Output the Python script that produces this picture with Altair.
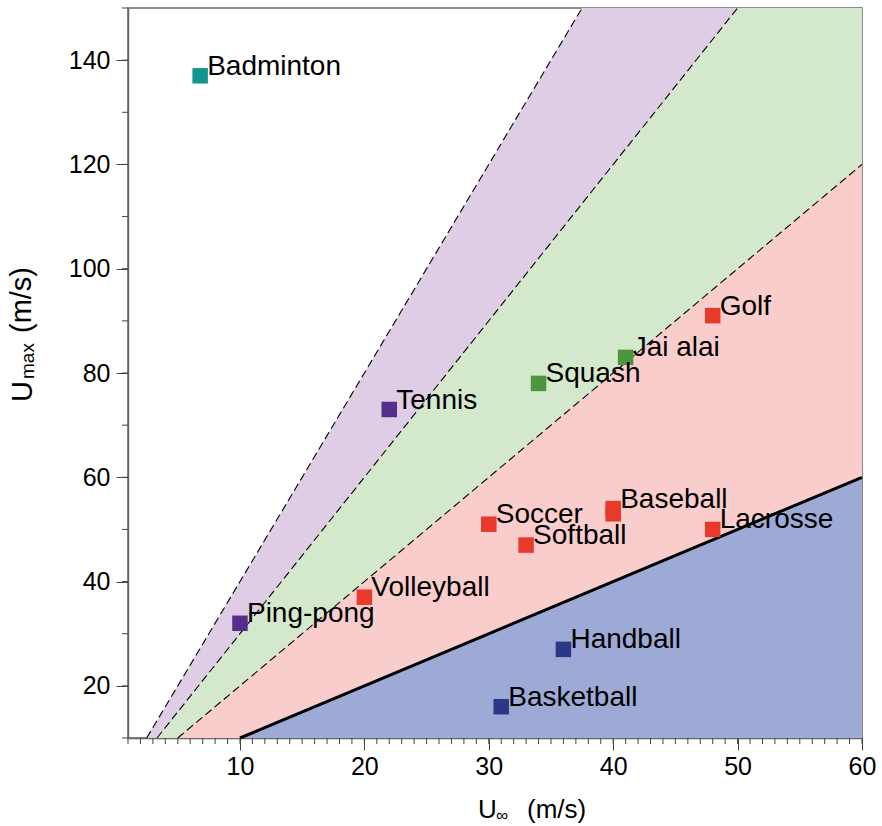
import altair as alt
import pandas as pd

# Sports: ball speed in play (U_max) versus terminal velocity (U_inf), m/s
sports = ["Badminton", "Tennis", "Ping-pong", "Squash", "Jai alai", "Golf",
          "Soccer", "Softball", "Baseball", "Baseball", "Volleyball",
          "Lacrosse", "Handball", "Basketball"]
u_inf = [6.8, 22, 10, 34, 41, 48, 30, 33, 40, 40, 20, 48, 36, 31]
u_max = [137, 73, 32, 78, 83, 91, 51, 47, 54, 53, 37, 50, 27, 16]
labels = ["Badminton", "Tennis", "Ping-pong", "Squash", "Jai alai", "Golf",
          "Soccer", "Softball", "Baseball", "", "Volleyball",
          "Lacrosse", "Handball", "Basketball"]
groups = ["teal", "violet", "violet", "green", "green", "red",
          "red", "red", "red", "red", "red",
          "red", "navy", "navy"]

group_names = ["teal", "violet", "green", "red", "navy"]
group_colors = ["#129691", "#552d8c", "#4c9640", "#e8392a", "#2d3787"]

# Regions bounded by U_max = k * U_inf
ratios = [4, 3, 2, 1]
region_colors = ["#decde4", "#d4e8cb", "#facdcd", "#9daad6"]

X_MIN, X_MAX = 1, 60
Y_MIN, Y_MAX = 10, 150
x_major = list(range(10, X_MAX + 1, 10))
x_minor = list(range(X_MIN, X_MAX + 1))
y_major = list(range(20, 141, 20))
y_minor = list(range(Y_MIN, Y_MAX + 1, 10))

W, H = 734, 730
FONT = "Liberation Sans"
TICK_COLOR = "#444444"

x_scale = alt.Scale(domain=[X_MIN, X_MAX], nice=False, zero=False)
y_scale = alt.Scale(domain=[Y_MIN, Y_MAX], nice=False, zero=False)

x_axis = alt.Axis(
    title=None, values=x_major, grid=False, tickSize=12,
    labelOverlap=False, labelFlush=False, labelBound=False,
    labelFontSize=25, labelFont=FONT, labelColor="black", labelPadding=4,
    domainColor="#666666", domainWidth=1.5, tickColor=TICK_COLOR, tickWidth=1,
)
y_axis = alt.Axis(
    title=None, values=y_major, grid=False, tickSize=12,
    labelOverlap=False, labelFlush=False, labelBound=False,
    labelFontSize=25, labelFont=FONT, labelColor="black", labelPadding=6,
    domainColor="#666666", domainWidth=1.5, tickColor=TICK_COLOR, tickWidth=1,
)

X = alt.X("u:Q", scale=x_scale, axis=x_axis)
Y = alt.Y("v:Q", scale=y_scale, axis=y_axis)


def boundary(k):
    """Points of the line U_max = k * U_inf inside the plot window."""
    x0 = max(Y_MIN / k, X_MIN)
    x1 = min(Y_MAX / k, X_MAX)
    return [(x0, k * x0), (x1, k * x1)]


layers = []
for k, col in zip(ratios, region_colors):
    pts = boundary(k)
    if pts[-1][0] < X_MAX:
        pts = pts + [(X_MAX, Y_MAX)]
    df = pd.DataFrame({"u": [p[0] for p in pts], "v": [p[1] for p in pts],
                       "base": [Y_MIN] * len(pts)})
    layers.append(
        alt.Chart(df).mark_area(color=col, opacity=1).encode(x=X, y=Y, y2="base:Q")
    )

for k in ratios:
    pts = boundary(k)
    df = pd.DataFrame({"u": [p[0] for p in pts], "v": [p[1] for p in pts]})
    if k == 1:
        mark = alt.Chart(df).mark_line(color="black", strokeWidth=3)
    else:
        mark = alt.Chart(df).mark_line(color="black", strokeWidth=1.1, strokeDash=[8, 4])
    layers.append(mark.encode(x=X, y=Y))

# Minor ticks on both axes
layers.append(
    alt.Chart(pd.DataFrame({"u": x_minor})).mark_tick(
        orient="vertical", size=6, thickness=1, color=TICK_COLOR, opacity=1
    ).encode(x=X, y=alt.value(H + 3))
)
layers.append(
    alt.Chart(pd.DataFrame({"v": y_minor})).mark_tick(
        orient="horizontal", size=6, thickness=1, color=TICK_COLOR, opacity=1
    ).encode(y=Y, x=alt.value(-3))
)

pts_df = pd.DataFrame({"sport": sports, "u": u_inf, "v": u_max,
                       "label": labels, "group": groups})

layers.append(
    alt.Chart(pts_df).mark_point(shape="square", filled=True, size=240, opacity=1).encode(
        x=X, y=Y,
        color=alt.Color("group:N", scale=alt.Scale(domain=group_names, range=group_colors),
                        legend=None),
    )
)
layers.append(
    alt.Chart(pts_df).mark_text(align="left", baseline="alphabetic", dx=7, dy=-1,
                                fontSize=28, font=FONT, color="black").encode(
        x=X, y=Y, text="label:N",
    )
)

# Axis titles with subscripts
one = alt.Data(values=[{}])


def txt(s, x, y, size, angle=0):
    kw = dict(align="left", baseline="alphabetic", fontSize=size, font=FONT, color="black")
    if angle:
        kw["angle"] = angle
    return alt.Chart(one).mark_text(**kw).encode(
        x=alt.value(x), y=alt.value(y), text=alt.value(s))


layers += [
    txt("U", 350, 810, 26),
    txt("\u221e", 368, 813, 17),
    txt("(m/s)", 399, 810, 26),
    txt("U", -96, 394, 29, 270),
    txt("max", -94, 371, 19, 270),
    txt("(m/s)", -97, 325, 29, 270),
]

chart = alt.layer(*layers).properties(
    width=W, height=H,
    padding={"left": 128, "top": 8, "right": 20, "bottom": 88},
    autosize="none",
).configure_view(stroke="#666666", strokeWidth=1.5)

chart.save("out.html", embed_options={"renderer": "svg", "actions": False})
